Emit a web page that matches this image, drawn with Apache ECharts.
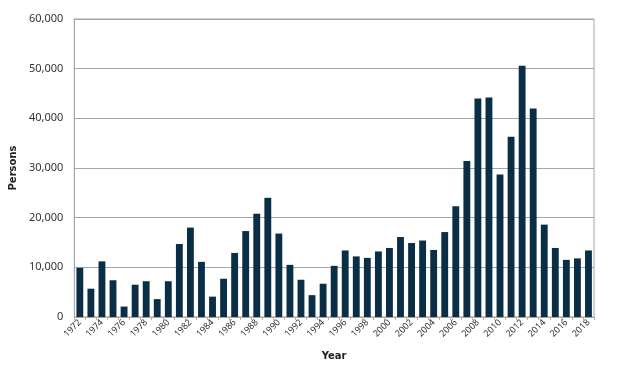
<!DOCTYPE html>
<html>
<head>
<meta charset="utf-8">
<script src="https://cdn.jsdelivr.net/npm/echarts@6/dist/echarts.min.js"></script>
<style>html,body{margin:0;padding:0;background:#fff;}#c{width:640px;height:370px;}</style>
</head>
<body>
<div id="c"></div>
<script>
const years = ['1972','1973','1974','1975','1976','1977','1978','1979','1980','1981','1982','1983','1984','1985','1986','1987','1988','1989','1990','1991','1992','1993','1994','1995','1996','1997','1998','1999','2000','2001','2002','2003','2004','2005','2006','2007','2008','2009','2010','2011','2012','2013','2014','2015','2016','2017','2018'];
const persons = [9900,5700,11200,7400,2100,6500,7200,3600,7200,14700,18000,11100,4100,7700,12900,17300,20800,24000,16800,10500,7500,4400,6700,10300,13400,12200,11900,13200,13900,16100,14900,15400,13500,17100,22300,31400,44000,44200,28700,36300,50600,42000,18600,13900,11500,11800,13400];
const yTicks = [0,10000,20000,30000,40000,50000,60000];

const chart = echarts.init(document.getElementById('c'), null, {renderer:'canvas'});
chart.setOption({
  animation:false,
  grid:{left:71,right:46,top:19,bottom:53,show:true,borderColor:'#a6a6a6',borderWidth:1},
  xAxis:{
    type:'category',data:years,
    name:'Year',nameLocation:'middle',nameGap:34,
    nameTextStyle:{fontFamily:'DejaVu Sans',fontWeight:'bold',fontSize:10,color:'#222'},
    axisLine:{lineStyle:{color:'#a6a6a6'}},
    axisTick:{show:true,interval:0,length:3,lineStyle:{color:'#c9a8a0'}},
    axisLabel:{interval:1,rotate:45,fontFamily:'Noto Sans',fontSize:9,color:'#333',margin:4}
  },
  yAxis:{
    type:'value',min:yTicks[0],max:yTicks[yTicks.length-1],interval:10000,
    name:'Persons',nameLocation:'middle',nameGap:53,nameRotate:90,
    nameTextStyle:{fontFamily:'DejaVu Sans',fontWeight:'bold',fontSize:10,color:'#222'},
    axisLine:{show:true,lineStyle:{color:'#a6a6a6'}},
    axisTick:{show:false},
    splitLine:{lineStyle:{color:'#a6a6a6'}},
    axisLabel:{fontFamily:'Noto Sans',fontSize:11,color:'#333',margin:11,
      formatter:v=>v.toLocaleString('en-US')}
  },
  series:[{type:'bar',data:persons,barCategoryGap:'38%',itemStyle:{color:'#0a2e45'}}]
});
</script>
</body>
</html>
